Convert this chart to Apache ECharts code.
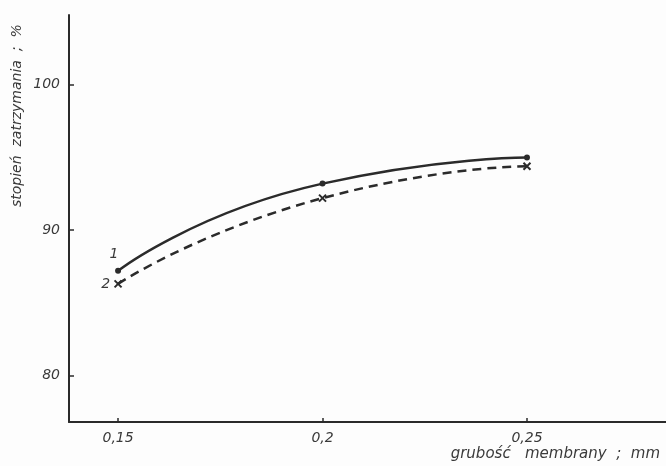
<!DOCTYPE html>
<html>
<head>
<meta charset="utf-8">
<script src="https://cdn.jsdelivr.net/npm/echarts@6/dist/echarts.min.js"></script>
<style>
  html, body { margin: 0; padding: 0; background: #fdfdfd; }
  #chart { width: 666px; height: 466px; }
</style>
</head>
<body>
<div id="chart"></div>
<script>
// membrane thickness (mm) vs retention (%)
const thickness = [0.15, 0.2, 0.25];
const retention1 = [87.2, 93.2, 95.0];
const retention2 = [86.3, 92.2, 94.4];
const xTicks = [0.15, 0.2, 0.25];
const yTicks = [80, 90, 100];
const seriesNames = ["1", "2"];

const ink = "#2b2b2b";
const textInk = "#3a3a3a";
const font = "DejaVu Sans";

const crossPath = "path://M0,0L10,10M10,0L0,10";

const chart = echarts.init(document.getElementById("chart"));

const pairs = (ys) => thickness.map((x, i) => [x, ys[i]]);

chart.setOption({
  backgroundColor: "#fdfdfd",
  animation: false,
  grid: { left: 69, right: 0, top: 15, bottom: 44 },
  xAxis: {
    type: "value",
    min: 0.138,
    max: 0.284,
    axisLine: { lineStyle: { color: ink, width: 2 } },
    axisTick: {
      show: true,
      inside: true,
      length: 4,
      customValues: xTicks,
      lineStyle: { color: ink, width: 1.5 },
    },
    axisLabel: {
      customValues: xTicks,
      color: textInk,
      fontFamily: font,
      fontStyle: "italic",
      fontSize: 14,
      margin: 9,
      formatter: (v) => String(v).replace(".", ","),
    },
    splitLine: { show: false },
  },
  yAxis: {
    type: "value",
    min: 76.8,
    max: 104.8,
    axisLine: { show: true, lineStyle: { color: ink, width: 2 } },
    axisTick: {
      show: true,
      inside: true,
      length: 5,
      customValues: yTicks,
      lineStyle: { color: ink, width: 1.5 },
    },
    axisLabel: {
      customValues: yTicks,
      color: textInk,
      fontFamily: font,
      fontStyle: "italic",
      fontSize: 14,
      margin: 9,
    },
    splitLine: { show: false },
  },
  graphic: [
    {
      type: "text",
      x: 10,
      y: 207,
      rotation: Math.PI / 2,
      style: {
        text: "stopień  zatrzymania  ;  %",
        fill: textInk,
        font: "italic 14px " + font,
      },
    },
    {
      type: "text",
      right: 6,
      bottom: 4,
      style: {
        text: "grubość   membrany  ;  mm",
        fill: textInk,
        font: "italic 15px " + font,
      },
    },
  ],
  series: [
    {
      name: seriesNames[0],
      type: "line",
      smooth: 0.6,
      data: pairs(retention1).map((p, i) =>
        i === 0
          ? { value: p, label: { show: true, formatter: seriesNames[0], position: "top", offset: [-4, -1] } }
          : p
      ),
      symbol: "circle",
      symbolSize: 6,
      itemStyle: { color: ink },
      lineStyle: { color: ink, width: 2.5 },
      label: { color: textInk, fontFamily: font, fontStyle: "italic", fontSize: 14 },
    },
    {
      name: seriesNames[1],
      type: "line",
      smooth: 0.6,
      data: pairs(retention2).map((p, i) =>
        i === 0
          ? { value: p, label: { show: true, formatter: seriesNames[1], position: "left", offset: [0, 0] } }
          : p
      ),
      symbol: crossPath,
      symbolSize: 7,
      itemStyle: { color: "none", borderColor: ink, borderWidth: 2 },
      lineStyle: { color: ink, width: 2.5, type: [9, 6] },
      label: { color: textInk, fontFamily: font, fontStyle: "italic", fontSize: 14, distance: 2 },
    },
  ],
});
</script>
</body>
</html>
